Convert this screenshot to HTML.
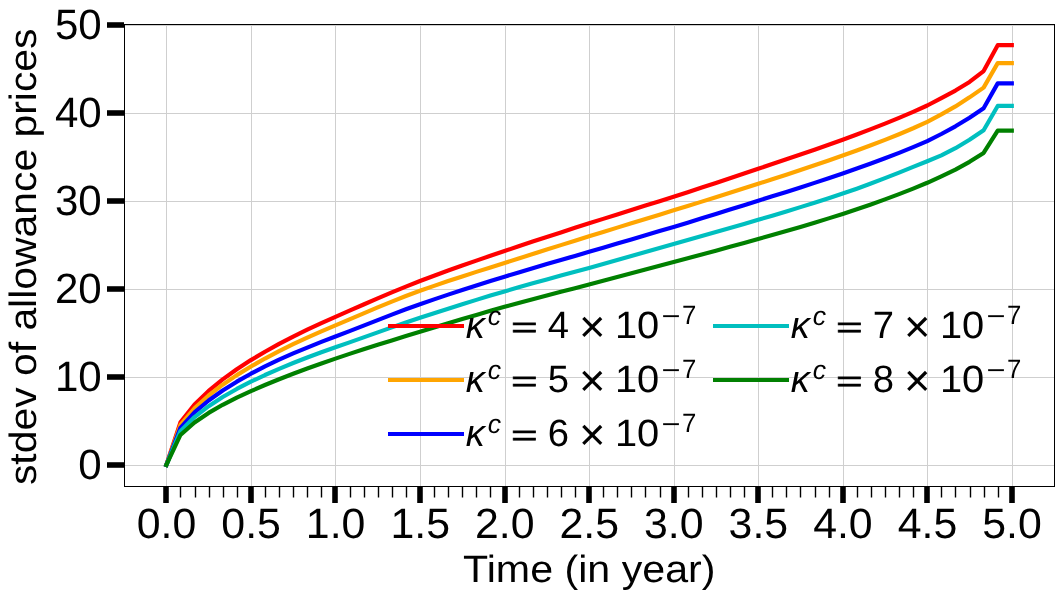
<!DOCTYPE html>
<html lang="en"><head><meta charset="utf-8"><title>stdev of allowance prices</title>
<style>html,body{margin:0;padding:0;background:#fff}svg{display:block}text{font-family:"Liberation Sans",sans-serif;fill:#000;text-rendering:geometricPrecision}.i{font-style:italic}</style></head><body>
<svg width="1064" height="599" viewBox="0 0 1064 599">
<rect x="0" y="0" width="1064" height="599" fill="#fff"/>
<g fill="#cfcfcf" shape-rendering="crispEdges"><rect x="166" y="25" width="1" height="461"/><rect x="251" y="25" width="1" height="461"/><rect x="335" y="25" width="1" height="461"/><rect x="420" y="25" width="1" height="461"/><rect x="505" y="25" width="1" height="461"/><rect x="589" y="25" width="1" height="461"/><rect x="674" y="25" width="1" height="461"/><rect x="758" y="25" width="1" height="461"/><rect x="843" y="25" width="1" height="461"/><rect x="927" y="25" width="1" height="461"/><rect x="1012" y="25" width="1" height="461"/><rect x="125" y="465" width="929" height="1"/><rect x="125" y="377" width="929" height="1"/><rect x="125" y="289" width="929" height="1"/><rect x="125" y="201" width="929" height="1"/><rect x="125" y="113" width="929" height="1"/><rect x="125" y="25" width="929" height="1"/></g>
<g fill="none" stroke-width="4.17" stroke-linecap="square" stroke-linejoin="round">
<polyline stroke="#ff0000" points="166.35,465 180.44,422.33 194.53,404.59 208.62,390.94 222.71,379.41 236.8,369.26 250.89,360.1 264.99,351.7 279.08,343.9 293.17,336.59 307.26,329.68 321.35,323.1 335.44,316.8 349.53,310.63 363.62,304.47 377.71,298.37 391.8,292.37 405.89,286.56 419.99,281 434.08,275.69 448.17,270.53 462.26,265.51 476.35,260.6 490.44,255.77 504.53,251 518.62,246.27 532.71,241.6 546.8,236.98 560.89,232.4 574.98,227.85 589.08,223.35 603.17,218.88 617.26,214.44 631.35,210.01 645.44,205.59 659.53,201.16 673.62,196.7 687.71,192.18 701.8,187.59 715.89,182.94 729.98,178.24 744.07,173.52 758.17,168.8 772.26,164.08 786.35,159.35 800.44,154.57 814.53,149.73 828.62,144.78 842.71,139.7 856.8,134.5 870.89,129.16 884.98,123.64 899.07,117.89 913.16,111.86 927.25,105.5 941.35,98.1 955.44,90.6 969.53,81.9 983.62,71.06 997.71,45.2 1011.8,45.2"/>
<polyline stroke="#ffa500" points="166.35,465 180.44,424.95 194.53,408.31 208.62,395.5 222.71,384.69 236.8,375.14 250.89,366.5 264.99,358.55 279.08,351.16 293.17,344.21 307.26,337.63 321.35,331.34 335.44,325.3 349.53,319.34 363.62,313.36 377.71,307.43 391.8,301.63 405.89,296.05 419.99,290.8 434.08,285.86 448.17,281.08 462.26,276.43 476.35,271.89 490.44,267.43 504.53,263 518.62,258.56 532.71,254.09 546.8,249.61 560.89,245.13 574.98,240.69 589.08,236.3 603.17,231.96 617.26,227.63 631.35,223.31 645.44,219 659.53,214.68 673.62,210.35 687.71,206 701.8,201.63 715.89,197.22 729.98,192.78 744.07,188.31 758.17,183.8 772.26,179.26 786.35,174.69 800.44,170.05 814.53,165.33 828.62,160.51 842.71,155.55 856.8,150.47 870.89,145.27 884.98,139.88 899.07,134.23 913.16,128.26 927.25,121.9 941.35,114.3 955.44,106.4 969.53,97.35 983.62,87.6 997.71,63.1 1011.8,63.1"/>
<polyline stroke="#0000ff" points="166.35,465 180.44,427.86 194.53,412.41 208.62,400.52 222.71,390.5 236.8,381.67 250.89,373.7 264.99,366.42 279.08,359.71 293.17,353.45 307.26,347.55 321.35,341.93 335.44,336.5 349.53,331.09 363.62,325.6 377.71,320.08 391.8,314.61 405.89,309.28 419.99,304.2 434.08,299.35 448.17,294.62 462.26,290.01 476.35,285.5 490.44,281.07 504.53,276.7 518.62,272.41 532.71,268.2 546.8,264.06 560.89,259.96 574.98,255.88 589.08,251.8 603.17,247.7 617.26,243.57 631.35,239.43 645.44,235.27 659.53,231.09 673.62,226.9 687.71,222.66 701.8,218.36 715.89,214 729.98,209.6 744.07,205.18 758.17,200.75 772.26,196.32 786.35,191.89 800.44,187.42 814.53,182.88 828.62,178.23 842.71,173.45 856.8,168.54 870.89,163.51 884.98,158.31 899.07,152.88 913.16,147.16 927.25,141.1 941.35,134 955.44,126.3 969.53,117.7 983.62,108.2 997.71,83.4 1011.8,83.4"/>
<polyline stroke="#00bfbf" points="166.35,465 180.44,431.12 194.53,417.03 208.62,406.19 222.71,397.03 236.8,388.97 250.89,381.7 264.99,375.03 279.08,368.84 293.17,363.02 307.26,357.53 321.35,352.3 335.44,347.3 349.53,342.36 363.62,337.37 377.71,332.37 391.8,327.4 405.89,322.51 419.99,317.8 434.08,313.22 448.17,308.7 462.26,304.25 476.35,299.88 490.44,295.59 504.53,291.4 518.62,287.33 532.71,283.36 546.8,279.47 560.89,275.61 574.98,271.77 589.08,267.9 603.17,263.98 617.26,260.02 631.35,256.02 645.44,252.01 659.53,248 673.62,244 687.71,240.01 701.8,236.03 715.89,232.03 729.98,228 744.07,223.92 758.17,219.8 772.26,215.63 786.35,211.42 800.44,207.13 814.53,202.75 828.62,198.25 842.71,193.6 856.8,188.71 870.89,183.53 884.98,178.14 899.07,172.58 913.16,166.91 927.25,161.2 941.35,155.3 955.44,148.2 969.53,139.8 983.62,130.3 997.71,105.95 1011.8,105.95"/>
<polyline stroke="#008000" points="166.35,465 180.44,434.98 194.53,422.52 208.62,412.93 222.71,404.81 236.8,397.62 250.89,391.1 264.99,385.04 279.08,379.3 293.17,373.81 307.26,368.55 321.35,363.48 335.44,358.6 349.53,353.89 363.62,349.29 377.71,344.8 391.8,340.4 405.89,336.07 419.99,331.8 434.08,327.55 448.17,323.29 462.26,319.07 476.35,314.89 490.44,310.79 504.53,306.8 518.62,302.94 532.71,299.17 546.8,295.48 560.89,291.82 574.98,288.17 589.08,284.5 603.17,280.79 617.26,277.06 631.35,273.31 645.44,269.54 659.53,265.77 673.62,262 687.71,258.23 701.8,254.45 715.89,250.65 729.98,246.81 744.07,242.93 758.17,239 772.26,235.02 786.35,230.99 800.44,226.89 814.53,222.69 828.62,218.37 842.71,213.9 856.8,209.25 870.89,204.41 884.98,199.36 899.07,194.08 913.16,188.57 927.25,182.8 941.35,176.3 955.44,169.6 969.53,161.85 983.62,152.9 997.71,130.6 1011.8,130.6"/>
</g>
<g fill="#000" shape-rendering="crispEdges">
<rect x="124" y="24" width="931" height="1"/>
<rect x="124" y="486" width="931" height="1"/>
<rect x="124" y="24" width="1" height="463"/>
<rect x="1054" y="24" width="1" height="463"/>
</g>
<g fill="#000">
<rect x="163.22" y="487" width="5.56" height="16"/>
<rect x="179.8" y="487" width="1.4" height="10.5"/>
<rect x="194.8" y="487" width="1.4" height="10.5"/>
<rect x="208.8" y="487" width="1.4" height="10.5"/>
<rect x="222.8" y="487" width="1.4" height="10.5"/>
<rect x="236.8" y="487" width="1.4" height="10.5"/>
<rect x="248.22" y="487" width="5.56" height="16"/>
<rect x="264.8" y="487" width="1.4" height="10.5"/>
<rect x="278.8" y="487" width="1.4" height="10.5"/>
<rect x="292.8" y="487" width="1.4" height="10.5"/>
<rect x="306.8" y="487" width="1.4" height="10.5"/>
<rect x="320.8" y="487" width="1.4" height="10.5"/>
<rect x="332.22" y="487" width="5.56" height="16"/>
<rect x="349.8" y="487" width="1.4" height="10.5"/>
<rect x="363.8" y="487" width="1.4" height="10.5"/>
<rect x="377.8" y="487" width="1.4" height="10.5"/>
<rect x="391.8" y="487" width="1.4" height="10.5"/>
<rect x="405.8" y="487" width="1.4" height="10.5"/>
<rect x="417.22" y="487" width="5.56" height="16"/>
<rect x="433.8" y="487" width="1.4" height="10.5"/>
<rect x="447.8" y="487" width="1.4" height="10.5"/>
<rect x="461.8" y="487" width="1.4" height="10.5"/>
<rect x="475.8" y="487" width="1.4" height="10.5"/>
<rect x="489.8" y="487" width="1.4" height="10.5"/>
<rect x="502.22" y="487" width="5.56" height="16"/>
<rect x="518.8" y="487" width="1.4" height="10.5"/>
<rect x="532.8" y="487" width="1.4" height="10.5"/>
<rect x="546.8" y="487" width="1.4" height="10.5"/>
<rect x="560.8" y="487" width="1.4" height="10.5"/>
<rect x="574.8" y="487" width="1.4" height="10.5"/>
<rect x="586.22" y="487" width="5.56" height="16"/>
<rect x="602.8" y="487" width="1.4" height="10.5"/>
<rect x="616.8" y="487" width="1.4" height="10.5"/>
<rect x="630.8" y="487" width="1.4" height="10.5"/>
<rect x="644.8" y="487" width="1.4" height="10.5"/>
<rect x="659.8" y="487" width="1.4" height="10.5"/>
<rect x="671.22" y="487" width="5.56" height="16"/>
<rect x="687.8" y="487" width="1.4" height="10.5"/>
<rect x="701.8" y="487" width="1.4" height="10.5"/>
<rect x="715.8" y="487" width="1.4" height="10.5"/>
<rect x="729.8" y="487" width="1.4" height="10.5"/>
<rect x="743.8" y="487" width="1.4" height="10.5"/>
<rect x="755.22" y="487" width="5.56" height="16"/>
<rect x="771.8" y="487" width="1.4" height="10.5"/>
<rect x="785.8" y="487" width="1.4" height="10.5"/>
<rect x="799.8" y="487" width="1.4" height="10.5"/>
<rect x="814.8" y="487" width="1.4" height="10.5"/>
<rect x="828.8" y="487" width="1.4" height="10.5"/>
<rect x="840.22" y="487" width="5.56" height="16"/>
<rect x="856.8" y="487" width="1.4" height="10.5"/>
<rect x="870.8" y="487" width="1.4" height="10.5"/>
<rect x="884.8" y="487" width="1.4" height="10.5"/>
<rect x="898.8" y="487" width="1.4" height="10.5"/>
<rect x="912.8" y="487" width="1.4" height="10.5"/>
<rect x="924.22" y="487" width="5.56" height="16"/>
<rect x="940.8" y="487" width="1.4" height="10.5"/>
<rect x="954.8" y="487" width="1.4" height="10.5"/>
<rect x="969.8" y="487" width="1.4" height="10.5"/>
<rect x="983.8" y="487" width="1.4" height="10.5"/>
<rect x="997.8" y="487" width="1.4" height="10.5"/>
<rect x="1009.22" y="487" width="5.56" height="16"/>
<rect x="107" y="462.22" width="17" height="5.56"/>
<rect x="107" y="374.22" width="17" height="5.56"/>
<rect x="107" y="286.22" width="17" height="5.56"/>
<rect x="107" y="198.22" width="17" height="5.56"/>
<rect x="107" y="110.22" width="17" height="5.56"/>
<rect x="107" y="22.22" width="17" height="5.56"/>
</g>
<g id="txt" opacity="0.999">
<g font-size="42.4">
<text transform="translate(166.55,538) scale(1.0106,1.0)" text-anchor="middle">0.0</text>
<text transform="translate(251.09,538) scale(1.0106,1.0)" text-anchor="middle">0.5</text>
<text transform="translate(335.64,538) scale(1.0106,1.0)" text-anchor="middle">1.0</text>
<text transform="translate(420.19,538) scale(1.0106,1.0)" text-anchor="middle">1.5</text>
<text transform="translate(504.73,538) scale(1.0106,1.0)" text-anchor="middle">2.0</text>
<text transform="translate(589.28,538) scale(1.0106,1.0)" text-anchor="middle">2.5</text>
<text transform="translate(673.82,538) scale(1.0106,1.0)" text-anchor="middle">3.0</text>
<text transform="translate(758.37,538) scale(1.0106,1.0)" text-anchor="middle">3.5</text>
<text transform="translate(842.91,538) scale(1.0106,1.0)" text-anchor="middle">4.0</text>
<text transform="translate(927.46,538) scale(1.0106,1.0)" text-anchor="middle">4.5</text>
<text transform="translate(1012,538) scale(1.0106,1.0)" text-anchor="middle">5.0</text>
<text transform="translate(101.7,479) scale(0.9917,1.0)" text-anchor="end">0</text>
<text transform="translate(101.7,391) scale(0.9917,1.0)" text-anchor="end">10</text>
<text transform="translate(101.7,303) scale(0.9917,1.0)" text-anchor="end">20</text>
<text transform="translate(101.7,215) scale(0.9917,1.0)" text-anchor="end">30</text>
<text transform="translate(101.7,127) scale(0.9917,1.0)" text-anchor="end">40</text>
<text transform="translate(101.7,39) scale(0.9917,1.0)" text-anchor="end">50</text>
</g>
<text font-size="38.06" transform="translate(589.3,582.2) scale(1.0825,1)" text-anchor="middle">Time (in year)</text>
<text font-size="38.06" transform="translate(36.2,256.8) rotate(-90) scale(1.074,1)" text-anchor="middle">stdev of allowance prices</text>
<g shape-rendering="crispEdges">
<rect x="388" y="324" width="76" height="4" fill="#ff0000"/>
<rect x="388" y="378" width="76" height="4" fill="#ffa500"/>
<rect x="388" y="432" width="76" height="4" fill="#0000ff"/>
<rect x="713" y="324" width="76" height="4" fill="#00bfbf"/>
<rect x="713" y="378" width="76" height="4" fill="#008000"/>
</g>
<g>
<text font-size="38" class="i" transform="translate(465.8,337.9) scale(1.002,1)">κ</text>
<text font-size="26.6" class="i" transform="translate(487.8,324.5) scale(1.0,1)">c</text>
<text font-size="38" stroke="#000" stroke-width="0.7" transform="translate(511.1,337.1) scale(1.202,0.759)">=</text>
<text font-size="38" transform="translate(547.8,337.9) scale(1.006,1)">4</text>
<text font-size="38" transform="translate(578.95,341.95) scale(1.192,1.192)">×</text>
<text font-size="38" transform="translate(614.95,337.9) scale(1.048,1)">10</text>
<text font-size="26.6" transform="translate(661.5,324.7) scale(1.224,1)">−</text>
<text font-size="26.6" transform="translate(682,323.5) scale(0.97,1)">7</text>
</g>
<g>
<text font-size="38" class="i" transform="translate(465.8,392.05) scale(1.002,1)">κ</text>
<text font-size="26.6" class="i" transform="translate(487.8,378.65) scale(1.0,1)">c</text>
<text font-size="38" stroke="#000" stroke-width="0.7" transform="translate(511.1,391.25) scale(1.202,0.759)">=</text>
<text font-size="38" transform="translate(547.8,392.05) scale(1.006,1)">5</text>
<text font-size="38" transform="translate(578.95,396.1) scale(1.192,1.192)">×</text>
<text font-size="38" transform="translate(614.95,392.05) scale(1.048,1)">10</text>
<text font-size="26.6" transform="translate(661.5,378.85) scale(1.224,1)">−</text>
<text font-size="26.6" transform="translate(682,377.65) scale(0.97,1)">7</text>
</g>
<g>
<text font-size="38" class="i" transform="translate(465.8,446.2) scale(1.002,1)">κ</text>
<text font-size="26.6" class="i" transform="translate(487.8,432.8) scale(1.0,1)">c</text>
<text font-size="38" stroke="#000" stroke-width="0.7" transform="translate(511.1,445.4) scale(1.202,0.759)">=</text>
<text font-size="38" transform="translate(547.8,446.2) scale(1.006,1)">6</text>
<text font-size="38" transform="translate(578.95,450.25) scale(1.192,1.192)">×</text>
<text font-size="38" transform="translate(614.95,446.2) scale(1.048,1)">10</text>
<text font-size="26.6" transform="translate(661.5,433) scale(1.224,1)">−</text>
<text font-size="26.6" transform="translate(682,431.8) scale(0.97,1)">7</text>
</g>
<g>
<text font-size="38" class="i" transform="translate(790.8,337.9) scale(1.002,1)">κ</text>
<text font-size="26.6" class="i" transform="translate(812.8,324.5) scale(1.0,1)">c</text>
<text font-size="38" stroke="#000" stroke-width="0.7" transform="translate(836.1,337.1) scale(1.202,0.759)">=</text>
<text font-size="38" transform="translate(872.8,337.9) scale(1.006,1)">7</text>
<text font-size="38" transform="translate(903.95,341.95) scale(1.192,1.192)">×</text>
<text font-size="38" transform="translate(939.95,337.9) scale(1.048,1)">10</text>
<text font-size="26.6" transform="translate(986.5,324.7) scale(1.224,1)">−</text>
<text font-size="26.6" transform="translate(1007,323.5) scale(0.97,1)">7</text>
</g>
<g>
<text font-size="38" class="i" transform="translate(790.8,392.05) scale(1.002,1)">κ</text>
<text font-size="26.6" class="i" transform="translate(812.8,378.65) scale(1.0,1)">c</text>
<text font-size="38" stroke="#000" stroke-width="0.7" transform="translate(836.1,391.25) scale(1.202,0.759)">=</text>
<text font-size="38" transform="translate(872.8,392.05) scale(1.006,1)">8</text>
<text font-size="38" transform="translate(903.95,396.1) scale(1.192,1.192)">×</text>
<text font-size="38" transform="translate(939.95,392.05) scale(1.048,1)">10</text>
<text font-size="26.6" transform="translate(986.5,378.85) scale(1.224,1)">−</text>
<text font-size="26.6" transform="translate(1007,377.65) scale(0.97,1)">7</text>
</g>
</g>
</svg></body></html>
